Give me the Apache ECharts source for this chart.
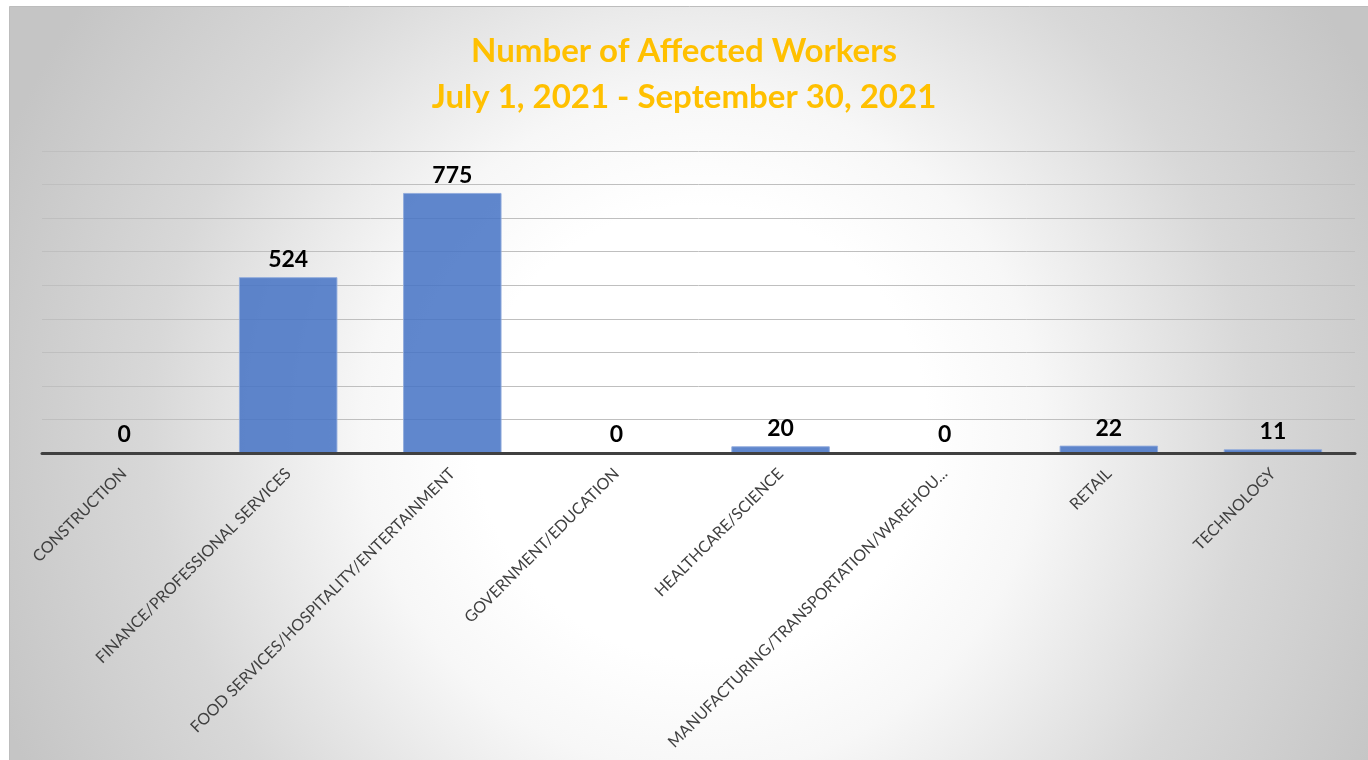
<!DOCTYPE html>
<html>
<head>
<meta charset="utf-8">
<title>Number of Affected Workers</title>
<script src="https://cdn.jsdelivr.net/npm/echarts@6/dist/echarts.min.js"></script>
<style>
  html, body { margin: 0; padding: 0; background: #ffffff; }
  #chart { width: 1368px; height: 760px; }
</style>
</head>
<body>
<div id="chart"></div>
<script>
// Industry sectors and the number of workers affected in each (Q3 2021)
const categories = [
  'CONSTRUCTION',
  'FINANCE/PROFESSIONAL SERVICES',
  'FOOD SERVICES/HOSPITALITY/ENTERTAINMENT',
  'GOVERNMENT/EDUCATION',
  'HEALTHCARE/SCIENCE',
  'MANUFACTURING/TRANSPORTATION/WAREHOU...',
  'RETAIL',
  'TECHNOLOGY'
];
const affectedWorkers = [0, 524, 775, 0, 20, 0, 22, 11];
const titleLines = ['Number of Affected Workers', 'July 1, 2021 - September 30, 2021'];

const chart = echarts.init(document.getElementById('chart'), null, { renderer: 'canvas' });

chart.setOption({
  animation: false,
  graphic: [{
    type: 'rect',
    z: -10,
    silent: true,
    shape: { x: 9.5, y: 6.5, width: 1370, height: 760 },
    style: {
      fill: {
        type: 'radial',
        x: 0.505, y: 0.56, r: 0.99,
        colorStops: [
          { offset: 0, color: '#ffffff' },
          { offset: 0.3, color: '#ffffff' },
          { offset: 0.45, color: '#f7f7f7' },
          { offset: 0.55, color: '#ececec' },
          { offset: 0.73, color: '#d8d8d8' },
          { offset: 1, color: '#c5c5c5' }
        ]
      },
      stroke: '#bdbdbd',
      lineWidth: 1
    }
  }],
  title: {
    text: titleLines.join('\n'),
    left: 'center',
    top: 23,
    textStyle: {
      fontFamily: 'Lato',
      fontWeight: 'bold',
      fontSize: 33,
      lineHeight: 46,
      color: '#FFC000'
    }
  },
  grid: { left: 42, right: 13, top: 151, bottom: 307, containLabel: false },
  xAxis: {
    type: 'category',
    data: categories,
    z: 3,
    axisLine: { lineStyle: { color: '#404040', width: 3 } },
    axisTick: { show: false },
    axisLabel: {
      interval: 0,
      rotate: 45,
      margin: 18,
      fontFamily: 'Lato',
      fontSize: 16,
      color: '#404040'
    }
  },
  yAxis: {
    type: 'value',
    min: 0,
    max: 900,
    interval: 100,
    axisLine: { show: false },
    axisTick: { show: false },
    axisLabel: { show: false },
    splitLine: { lineStyle: { color: '#bfbfbf', width: 1 } }
  },
  series: [{
    type: 'bar',
    data: affectedWorkers,
    barCategoryGap: '40%',
    itemStyle: {
      color: 'rgba(68,114,196,0.85)',
      borderColor: 'rgba(143,170,220,0.9)',
      borderWidth: 1
    },
    label: {
      show: true,
      position: 'top',
      distance: 6,
      fontFamily: 'Lato',
      fontWeight: 'bold',
      fontSize: 23,
      color: '#000000'
    }
  }]
});
</script>
</body>
</html>
